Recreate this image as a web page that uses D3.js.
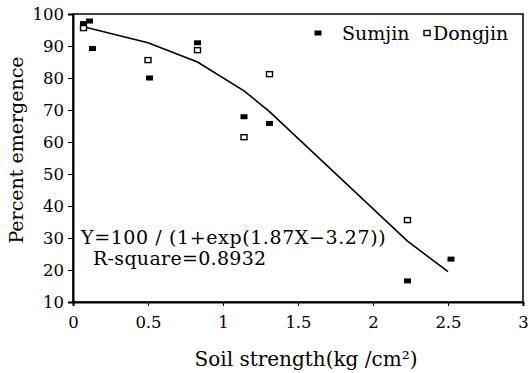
<!DOCTYPE html>
<html>
<head>
<meta charset="utf-8">
<script src="https://cdn.jsdelivr.net/npm/d3@7"></script>
<style>
  body { margin: 0; background: #fff; }
  text { font-family: "DejaVu Serif", "Liberation Serif", serif; fill: #000; }
</style>
</head>
<body>
<svg width="528" height="373"></svg>
<script>
// data
const sumjinX = [0.07, 0.11, 0.13, 0.51, 0.83, 1.14, 1.31, 2.23, 2.52];
const sumjinY = [97, 97.8, 89.2, 80, 91, 67.9, 65.8, 16.6, 23.4];
const dongjinX = [0.07, 0.50, 0.83, 1.14, 1.31, 2.23];
const dongjinY = [95.6, 85.6, 88.7, 61.5, 81.2, 35.6];
// fitted curve vertices
const fitX = [0.07, 0.5, 0.83, 1.14, 1.31, 2.23, 2.5];
const fitY = [96, 91, 85, 76, 69.5, 29, 19.5];

const xTicks = [0, 0.5, 1, 1.5, 2, 2.5, 3];
const yTicks = [10, 20, 30, 40, 50, 60, 70, 80, 90, 100];

// layout
const margin = { top: 14, right: 5, bottom: 71, left: 73 };

let svg = d3.select('svg');
let g = svg.append('g')
	.attr('transform', `translate(${margin.left}, ${margin.top})`);

let x = d3.scaleLinear().domain([0, 3]).range([0, 450]);
let y = d3.scaleLinear().domain([10, 100]).range([288, 0]);

// frame
g.append('rect')
	.attr('x', 0).attr('y', 0)
	.attr('width', x(3)).attr('height', y(10))
	.attr('fill', 'none')
	.attr('stroke', '#000')
	.attr('stroke-width', 1.5);

// Y axis
let yAxis = g.append('g')
	.call(d3.axisLeft(y).tickValues(yTicks).tickSize(5).tickFormat(d3.format('d')));
yAxis.select('.domain').attr('stroke-width', 2);
yAxis.selectAll('text').style('font-size', '16.5px').attr('x', -9).attr('dy', '0.36em');

// X axis
let xAxis = g.append('g')
	.attr('transform', `translate(0, ${y(10)})`)
	.call(d3.axisBottom(x).tickValues(xTicks).tickSize(4).tickFormat(d => d));
xAxis.select('.domain').attr('stroke-width', 2);
xAxis.selectAll('text').style('font-size', '16.5px').attr('y', 14);

// fitted line
let line = d3.line()
	.x(d => x(d[0]))
	.y(d => y(d[1]));

g.append('path')
	.datum(fitX.map((v, i) => [v, fitY[i]]))
	.attr('fill', 'none')
	.attr('stroke', '#000')
	.attr('stroke-width', 1.6)
	.attr('d', line);

// Sumjin (filled)
g.selectAll('.sumjin')
	.data(sumjinX.map((v, i) => [v, sumjinY[i]]))
	.enter().append('rect')
	.attr('class', 'sumjin')
	.attr('x', d => x(d[0]) - 3.5)
	.attr('y', d => y(d[1]) - 2.5)
	.attr('width', 7).attr('height', 5)
	.attr('fill', '#000');

// Dongjin (open)
g.selectAll('.dongjin')
	.data(dongjinX.map((v, i) => [v, dongjinY[i]]))
	.enter().append('rect')
	.attr('class', 'dongjin')
	.attr('x', d => x(d[0]) - 3)
	.attr('y', d => y(d[1]) - 2.5)
	.attr('width', 6).attr('height', 5)
	.attr('fill', '#fff')
	.attr('stroke', '#000')
	.attr('stroke-width', 1.4);

// legend
svg.append('rect').attr('x', 314.5).attr('y', 30.5).attr('width', 7).attr('height', 5).attr('fill', '#000');
svg.append('text').attr('x', 342).attr('y', 40).style('font-size', '19px').text('Sumjin');
svg.append('rect').attr('x', 424).attr('y', 30.5).attr('width', 6).attr('height', 5)
	.attr('fill', '#fff').attr('stroke', '#000').attr('stroke-width', 1.4);
svg.append('text').attr('x', 433).attr('y', 40).style('font-size', '19px').text('Dongjin');

// equation
svg.append('text').attr('x', 81).attr('y', 244).style('font-size', '19px')
	.style('letter-spacing', '0.6px')
	.text('Y=100 / (1+exp(1.87X\u22123.27))');
svg.append('text').attr('x', 93).attr('y', 265).style('font-size', '19px')
	.style('letter-spacing', '0.3px')
	.text('R-square=0.8932');

// axis titles
svg.append('text')
	.attr('x', margin.left + x(1.5) + 8).attr('y', 366)
	.attr('text-anchor', 'middle')
	.style('font-size', '20px')
	.text('Soil strength(kg /cm\u00b2)');

svg.append('text')
	.attr('transform', 'translate(23, 150) rotate(-90)')
	.attr('text-anchor', 'middle')
	.style('font-size', '19px')
	.text('Percent emergence');
</script>
</body>
</html>
